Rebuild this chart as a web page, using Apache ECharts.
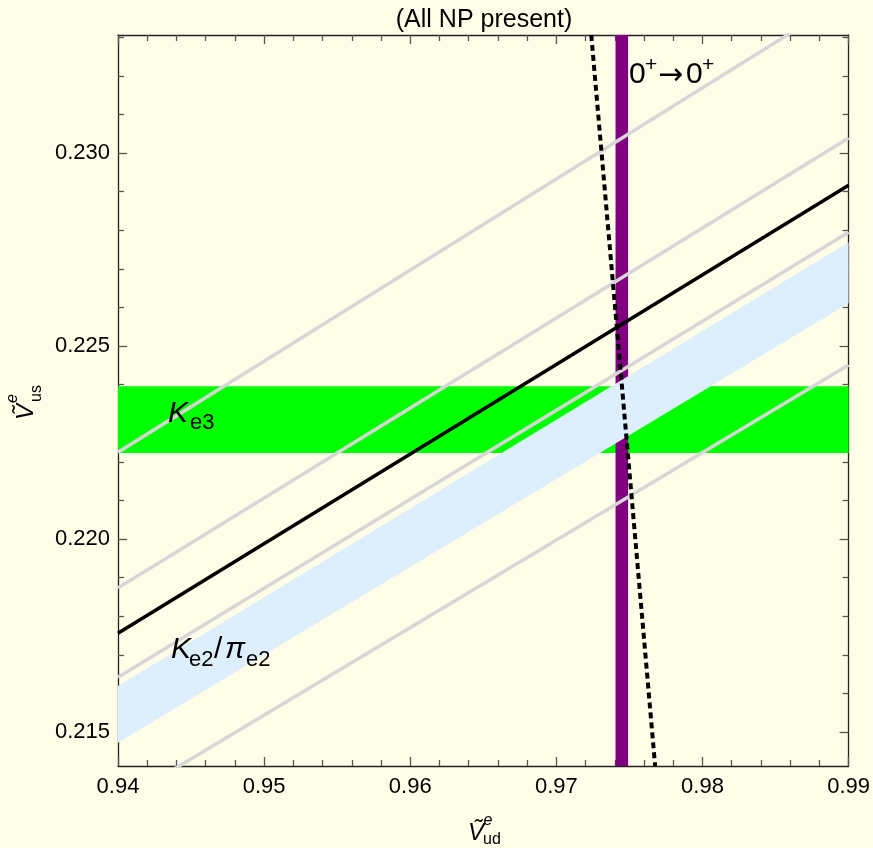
<!DOCTYPE html>
<html>
<head>
<meta charset="utf-8">
<title>(All NP present)</title>
<script src="https://cdn.jsdelivr.net/npm/echarts@6/dist/echarts.min.js"></script>
<style>
  html, body { margin: 0; padding: 0; background: #fefee8; }
  #chart { width: 873px; height: 848px; }
</style>
</head>
<body>
<div id="chart"></div>
<script>
// axis ranges
const X_MIN = 0.94, X_MAX = 0.99;
const Y_MIN = 0.21412, Y_MAX = 0.23306;
const yMajorTicks = [0.215, 0.220, 0.225, 0.230];
const yMinorTicks = [0.216, 0.217, 0.218, 0.219, 0.221, 0.222, 0.223, 0.224,
                     0.226, 0.227, 0.228, 0.229, 0.231, 0.232, 0.233];

// every sloped line is given by its y value at the two frame edges
const edgeX = [0.94, 0.99];
const ke3Band = [0.22223, 0.22396];          // K_e3, horizontal band
const superBand = [0.97405, 0.97491];        // 0+ -> 0+, vertical band
const kpiLow = [0.21472, 0.22611];           // K_e2/pi_e2 band, lower edge
const kpiHigh = [0.21619, 0.22769];          // K_e2/pi_e2 band, upper edge
const grey1 = [0.22225, 0.23405];
const grey2 = [0.21873, 0.23039];
const grey3 = [0.21642, 0.22795];
const grey4 = [0.21317, 0.22451];
const blackLine = [0.21756, 0.22917];
const dottedX = [0.97239, 0.97676];
const dottedY = [Y_MAX, Y_MIN];

const FONT = '"Liberation Sans", Arial, sans-serif';
const AXIS_COLOR = '#222';
const TICK_COLOR = '#555';

function pairs(xs, ys) {
    return xs.map((x, i) => [x, ys[i]]);
}

function greySeries(ys) {
    return {
        type: 'line',
        z: 3,
        data: pairs(edgeX, ys),
        symbol: 'none',
        silent: true,
        lineStyle: {color: '#d6d6d6', width: 3.5}
    };
}

function xAxisDef(pos, showLabel) {
    return {
        type: 'value',
        position: pos,
        min: X_MIN,
        max: X_MAX,
        interval: 0.01,
        axisLine: {show: true, lineStyle: {color: AXIS_COLOR, width: 1.3}},
        axisTick: {show: true, inside: true, length: 9, lineStyle: {color: TICK_COLOR, width: 1.3}},
        minorTick: {show: true, splitNumber: 5, length: 6, lineStyle: {color: TICK_COLOR, width: 1.3}},
        splitLine: {show: false},
        axisLabel: {
            show: showLabel,
            margin: 10,
            color: '#000',
            fontSize: 22,
            fontFamily: FONT,
            formatter: v => v.toFixed(2)
        }
    };
}

function yAxisDef(pos, ticks, len, showLine, showLabel) {
    return {
        type: 'value',
        position: pos,
        min: Y_MIN,
        max: Y_MAX,
        axisLine: {show: showLine, onZero: false, lineStyle: {color: AXIS_COLOR, width: 1.3}},
        axisTick: {show: true, inside: true, length: len, customValues: ticks,
                   lineStyle: {color: TICK_COLOR, width: 1.3}},
        splitLine: {show: false},
        axisLabel: {
            show: showLabel,
            customValues: ticks,
            margin: 8,
            color: '#000',
            fontSize: 22,
            fontFamily: FONT,
            formatter: v => v.toFixed(3)
        }
    };
}

function txt(text, x, y, size, extra) {
    return {
        type: 'text',
        x: x,
        y: y,
        z: 100,
        style: Object.assign({
            text: text,
            fill: '#000',
            fontSize: size,
            fontFamily: FONT,
            textAlign: 'left',
            textVerticalAlign: 'middle'
        }, extra || {})
    };
}

const chart = echarts.init(document.getElementById('chart'));

chart.setOption({
    backgroundColor: '#fefee8',
    animation: false,
    grid: {left: 118, right: 22, top: 35, bottom: 82, containLabel: false},
    xAxis: [
        xAxisDef('bottom', true),
        xAxisDef('top', false)
    ],
    yAxis: [
        yAxisDef('left', yMajorTicks, 9, true, true),
        yAxisDef('left', yMinorTicks, 6, false, false),
        yAxisDef('right', yMajorTicks, 9, true, false),
        yAxisDef('right', yMinorTicks, 6, false, false)
    ],
    series: [
        {
            // K_e3 band
            type: 'custom',
            z: 1,
            silent: true,
            data: [ke3Band],
            renderItem: (params, api) => {
                const p0 = api.coord([X_MIN, api.value(1)]);
                const p1 = api.coord([X_MAX, api.value(0)]);
                return {
                    type: 'rect',
                    shape: {x: p0[0], y: p0[1], width: p1[0] - p0[0], height: p1[1] - p0[1]},
                    style: {fill: '#00ff00'}
                };
            }
        },
        {
            // 0+ -> 0+ band
            type: 'custom',
            z: 2,
            silent: true,
            data: [superBand],
            renderItem: (params, api) => {
                const p0 = api.coord([api.value(0), Y_MAX]);
                const p1 = api.coord([api.value(1), Y_MIN]);
                return {
                    type: 'rect',
                    shape: {x: p0[0], y: p0[1], width: p1[0] - p0[0], height: p1[1] - p0[1]},
                    style: {fill: '#800080'}
                };
            }
        },
        greySeries(grey1),
        greySeries(grey2),
        greySeries(grey3),
        greySeries(grey4),
        {
            // K_e2/pi_e2 band
            type: 'custom',
            z: 4,
            silent: true,
            data: edgeX.map((x, i) => [x, kpiLow[i], kpiHigh[i]]),
            renderItem: (params, api) => {
                if (params.dataIndex !== 0) return null;
                const pts = [];
                edgeX.forEach((x, i) => pts.push(api.coord([x, kpiLow[i]])));
                for (let i = edgeX.length - 1; i >= 0; i--) pts.push(api.coord([edgeX[i], kpiHigh[i]]));
                return {
                    type: 'polygon',
                    shape: {points: pts},
                    style: {fill: '#ddeefd'}
                };
            }
        },
        {
            type: 'line',
            z: 5,
            data: pairs(edgeX, blackLine),
            symbol: 'none',
            silent: true,
            lineStyle: {color: '#000', width: 3.5}
        },
        {
            type: 'line',
            z: 6,
            data: pairs(dottedX, dottedY),
            symbol: 'none',
            silent: true,
            lineStyle: {color: '#000', width: 4, type: [6, 4]}
        }
    ],
    graphic: [
        txt('(All NP present)', 484, 20, 25, {textAlign: 'center'}),

        // K_e3
        txt('K', 168, 414, 30, {fontStyle: 'italic'}),
        txt('e3', 190, 423, 22),

        // K_e2 / pi_e2
        txt('K', 171, 650, 30, {fontStyle: 'italic'}),
        txt('e2', 189, 660, 22),
        txt('/', 214, 650, 30),
        txt('\u03c0', 225, 650, 30, {fontStyle: 'italic'}),
        txt('e2', 246, 660, 22),

        // 0+ -> 0+
        txt('0', 629, 75, 30),
        txt('+', 645, 65, 21),
        txt('\u2192', 658, 76, 30, {fontFamily: '"DejaVu Sans", sans-serif'}),
        txt('0', 686, 75, 30),
        txt('+', 702, 65, 21),

        // x axis name
        txt('V\u0303', 476, 833, 24, {fontStyle: 'italic', textAlign: 'center'}),
        txt('e', 488, 821, 16, {fontStyle: 'italic', textAlign: 'center'}),
        txt('ud', 492, 840, 16, {textAlign: 'center'}),

        // y axis name, rotated
        {
            type: 'group',
            x: 26,
            y: 412,
            rotation: Math.PI / 2,
            children: [
                txt('V\u0303', 0, 0, 24, {fontStyle: 'italic', textAlign: 'center'}),
                txt('e', 13.5, -13, 16, {fontStyle: 'italic', textAlign: 'center'}),
                txt('us', 18.5, 11, 16, {textAlign: 'center'})
            ]
        }
    ]
});
</script>
</body>
</html>
